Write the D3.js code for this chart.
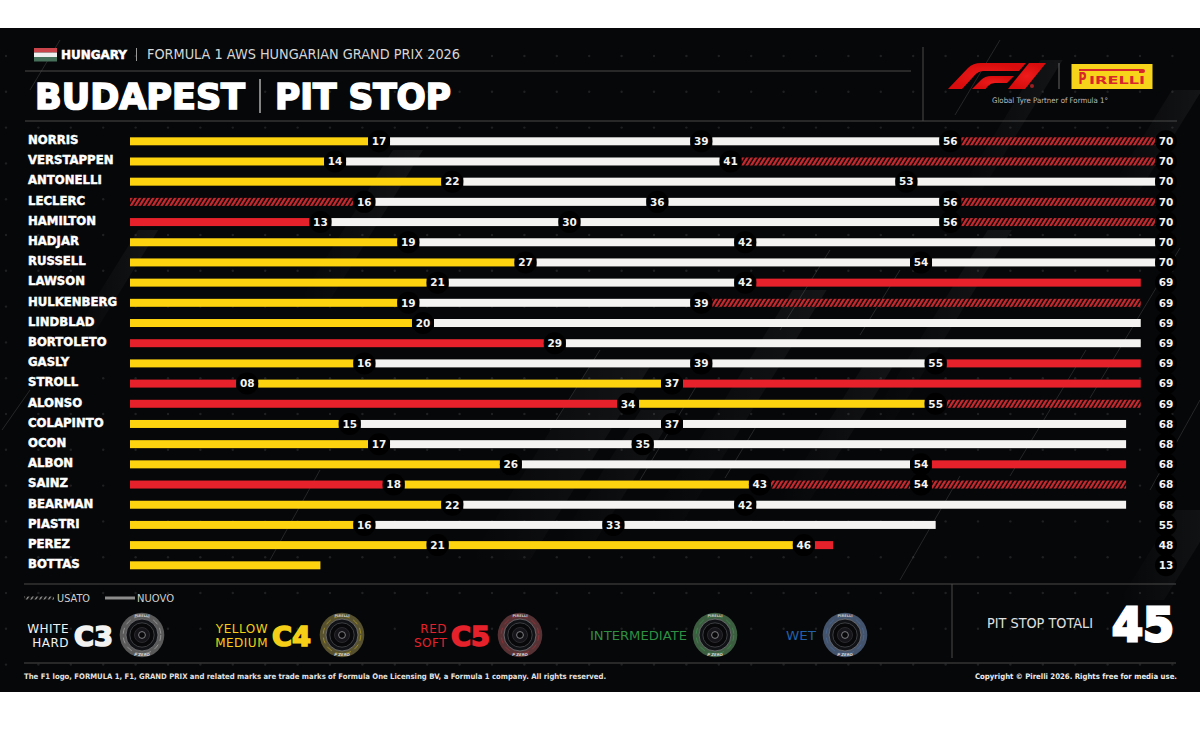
<!DOCTYPE html>
<html>
<head>
<meta charset="utf-8">
<title>Budapest pit stop</title>
<script src="https://cdn.jsdelivr.net/npm/d3@7"></script>
<style>
  html, body { margin: 0; background: #fff; }
  svg { display: block; }
  text { font-family: "DejaVu Sans", sans-serif; }
</style>
</head>
<body>
<svg id="chart" width="1200" height="729"></svg>
<script>
// Race order, top to bottom
const drivers = ["NORRIS","VERSTAPPEN","ANTONELLI","LECLERC","HAMILTON","HADJAR","RUSSELL","LAWSON",
  "HULKENBERG","LINDBLAD","BORTOLETO","GASLY","STROLL","ALONSO","COLAPINTO","OCON","ALBON","SAINZ",
  "BEARMAN","PIASTRI","PEREZ","BOTTAS"];

// Lap on which each stint ended; the last entry is the driver's final lap
const stintEnds = [
  [17,39,56,70],[14,41,70],[22,53,70],[16,36,56,70],[13,30,56,70],[19,42,70],[27,54,70],[21,42,69],
  [19,39,69],[20,69],[29,69],[16,39,55,69],[8,37,69],[34,55,69],[15,37,68],[17,35,68],[26,54,68],
  [18,43,54,68],[22,42,68],[16,33,55],[21,46,48],[13]
];

// Compound per stint: W hard, Y medium, R soft, lower case r = used soft set
const stintTyres = [
  ["Y","W","W","r"],["Y","W","r"],["Y","W","W"],["r","W","W","r"],["R","W","W","r"],["Y","W","W"],
  ["Y","W","W"],["Y","W","R"],["Y","W","r"],["Y","W"],["R","W"],["Y","W","W","R"],["R","Y","R"],
  ["R","Y","r"],["Y","W","W"],["Y","W","W"],["Y","W","R"],["R","Y","r","r"],["Y","W","W"],
  ["Y","W","W"],["Y","Y","R"],["Y"]
];

const tyreLegend = [
  { lines:["WHITE","HARD"], code:"C3", color:"#f2f2f2", wall:"#5a5a5a", band:"#a0a0a0" },
  { lines:["YELLOW","MEDIUM"], code:"C4", color:"#f5cf17", wall:"#57512f", band:"#a8962a" },
  { lines:["RED","SOFT"], code:"C5", color:"#e5222b", wall:"#573235", band:"#96343a" },
  { lines:["INTERMEDIATE"], code:null, color:"#2f8f42", wall:"#3c5d40", band:"#3f8a4f" },
  { lines:["WET"], code:null, color:"#2160a8", wall:"#43536b", band:"#4a6a95" }
];

const svg = d3.select("#chart");
const defs = svg.append("defs");

const x = d3.scaleLinear().domain([0, 70]).range([130, 1155.4]);
const y = d3.scalePoint().domain(drivers).range([141.3, 565.3]);
const tyreFill = { W:"#f4f3f1", Y:"#fdd20f", R:"#e7212b", r:"url(#usedSoft)" };

// Hatch fills
const hatch = (id, colour, ground, w) => {
  const p = defs.append("pattern").attr("id", id).attr("width", 4.4).attr("height", 8)
    .attr("patternUnits", "userSpaceOnUse").attr("patternTransform", "skewX(-32)");
  p.append("rect").attr("width", 4.4).attr("height", 8).attr("fill", ground);
  p.append("rect").attr("width", w).attr("height", 8).attr("fill", colour);
};
hatch("usedSoft", "#c8292f", "#1a0b0c", 2.5);
hatch("usedKey", "#8c8c8c", "#111", 1.6);

const streak = defs.append("linearGradient").attr("id", "streak")
  .attr("x1", 0).attr("x2", 1).attr("y1", 0).attr("y2", 0);
streak.append("stop").attr("offset", 0).attr("stop-color", "#fff").attr("stop-opacity", 0);
streak.append("stop").attr("offset", 1).attr("stop-color", "#fff").attr("stop-opacity", 0.055);

const rim = defs.append("radialGradient").attr("id", "logoRed");
rim.append("stop").attr("offset", 0).attr("stop-color", "#ee1c1c");
rim.append("stop").attr("offset", 1).attr("stop-color", "#d80c0c");

// Backdrop panel
svg.append("rect").attr("y", 28).attr("width", 1200).attr("height", 664).attr("fill", "#060709");

const backdrop = svg.append("g");

// Slanted light bands running up to the right
const bands = [
  [470,560,200,60],[560,540,130,36],[650,520,230,34],[780,500,140,30],[870,420,190,24],
  [1120,600,90,44],[300,300,150,30],[70,340,110,20],[960,190,130,22],[1110,190,100,30]
];
backdrop.selectAll("path.band").data(bands).join("path").attr("class", "band")
  .attr("fill", "url(#streak)")
  .attr("d", ([bx, by, len, w]) => {
    const dx = len * 0.62;
    return `M${bx},${by}L${bx + w},${by}L${bx + w + dx},${by - len}L${bx + dx},${by - len}Z`;
  });

// Thin slanted hairlines
const hairlines = [
  [1086,350,1010,476],[1180,248,1090,398],[960,476,900,580],[700,380,640,480],
  [830,250,780,330],[600,350,550,430],[30,390,2,430],[320,470,270,560],[1200,400,1150,490],
  [900,270,860,335],[760,420,725,478],[60,40,30,90],[1000,40,955,115]
];
backdrop.selectAll("line").data(hairlines).join("line")
  .attr("x1", d => d[0]).attr("y1", d => d[1]).attr("x2", d => d[2]).attr("y2", d => d[3])
  .attr("stroke", "#fff").attr("stroke-opacity", 0.16).attr("stroke-width", 0.8);

// Dot lattice
const dots = d3.cross(d3.range(6, 1200, 32.4), d3.range(56, 690, 35.8));
backdrop.selectAll("circle").data(dots).join("circle")
  .attr("cx", d => d[0]).attr("cy", d => d[1]).attr("r", 1.2)
  .attr("fill", "#fff").attr("fill-opacity", 0.1);

// Frame rules
const rules = [
  [25,71,911,71],[25,121,1177,121],[923,47,923,121],[24,584,1176,584],[24,663,1176,663],[952,584,952,658]
];
svg.append("g").selectAll("line").data(rules).join("line")
  .attr("x1", d => d[0]).attr("y1", d => d[1]).attr("x2", d => d[2]).attr("y2", d => d[3])
  .attr("stroke", "#4a4a4a").attr("stroke-width", 1);

// Header
const head = svg.append("g");
[["#c9444b",48],["#efefef",52.5],["#47705a",57]].forEach(([c, top]) =>
  head.append("rect").attr("x", 34).attr("y", top).attr("width", 23).attr("height", 4.5).attr("fill", c));
const label = (g, t, px, py, size, opts = {}) => {
  const el = g.append("text").text(t).attr("x", px).attr("y", py)
    .attr("font-size", size).attr("fill", opts.fill || "#fff")
    .attr("text-anchor", opts.anchor || "start")
    .attr("font-family", opts.family || "DejaVu Sans")
    .attr("font-weight", opts.weight || 400);
  if (opts.len) el.attr("textLength", opts.len).attr("lengthAdjust", "spacingAndGlyphs");
  if (opts.heavy) el.attr("stroke", opts.fill || "#fff").attr("stroke-width", opts.heavy).attr("paint-order", "stroke");
  return el;
};
label(head, "HUNGARY", 61, 58.5, 11.5, { weight:700, len:66, heavy:0.5 });
head.append("line").attr("x1", 136.5).attr("x2", 136.5).attr("y1", 48).attr("y2", 61).attr("stroke", "#999");
label(head, "FORMULA 1 AWS HUNGARIAN GRAND PRIX 2026", 147, 59, 14,
  { family:"Inter", weight:400, len:313, fill:"#d6d6d6" });
label(head, "BUDAPEST", 35, 108.5, 35, { weight:700, len:210, heavy:1.7 });
head.append("line").attr("x1", 260).attr("x2", 260).attr("y1", 79).attr("y2", 113).attr("stroke", "#d8d8d8").attr("stroke-width", 1.2);
label(head, "PIT STOP", 275, 108.5, 35, { weight:700, len:176, heavy:1.7 });

// Sponsor marks
const f1 = svg.append("g").attr("transform", "translate(948,63)").attr("fill", "url(#logoRed)");
f1.append("path").attr("d", "M0,26L20,5Q25,0 33,0L78,0L71,8L36,8Q30,8 26,13L14,26Z");
f1.append("path").attr("d", "M24,26L33,17Q37,13 43,13L66,13L59,20L47,20Q43,20 40,23L37.5,26Z");
f1.append("path").attr("d", "M81,0L98,0L77,26L60,26Z");
f1.append("circle").attr("cx", 84).attr("cy", 23).attr("r", 2).attr("fill", "#9c1f22");
svg.append("line").attr("x1", 1059).attr("x2", 1059).attr("y1", 63).attr("y2", 89).attr("stroke", "#666");
const pz = svg.append("g");
pz.append("rect").attr("x", 1071.5).attr("y", 64).attr("width", 81).attr("height", 25).attr("fill", "#f7d31a");
pz.append("path").attr("fill", "#d8272c")
  .attr("d", "M1079,69H1143a2,2 0 0 1 0,4H1139V71H1079Z");
label(pz, "P", 1078.5, 84, 15.5, { weight:700, fill:"#d8272c", len:8 });
label(pz, "IRELLI", 1089, 84, 11, { weight:700, fill:"#d8272c", len:56 });
label(svg, "Global Tyre Partner of Formula 1°", 1050, 103, 7.6,
  { family:"Inter", anchor:"middle", fill:"#bdbdbd", len:116 });

// One row per driver
const rows = svg.append("g").selectAll("g").data(drivers).join("g")
  .attr("transform", d => `translate(0,${y(d)})`);

label(rows, d => d, 28, 2.8, 11.7, { weight:700, heavy:0.45 });

const barH = 8, gap = 11;
rows.each(function (name, i) {
  const row = d3.select(this), ends = stintEnds[i], last = ends.length - 1;
  const stints = ends.map((lap, k) => ({
    from: k ? ends[k - 1] : 0, to: lap, tyre: stintTyres[i][k], first: k === 0, final: k === last
  }));
  row.selectAll("rect").data(stints).join("rect")
    .attr("x", s => s.first ? x(0) : x(s.from) + gap)
    .attr("width", s => (s.final ? x(s.to) : x(s.to) - gap) - (s.first ? x(0) : x(s.from) + gap))
    .attr("y", -barH / 2).attr("height", barH)
    .attr("fill", s => tyreFill[s.tyre]);

  // Pit lap badges, with the final lap set apart in its own column
  const badgeX = s => s.final ? 1166 : x(s.to);
  row.selectAll("circle").data(stints).join("circle")
    .attr("cx", badgeX).attr("r", 11).attr("fill", "#000");
  row.selectAll("text.lap").data(stints).join("text").attr("class", "lap")
    .attr("x", badgeX).attr("y", 3.8).attr("text-anchor", "middle")
    .attr("font-family", "Roboto").attr("font-weight", 900).attr("font-size", 10.5)
    .attr("fill", "#f4f4f4")
    .text(s => d3.format("02")(s.to));
});

// Used / new key
const key = svg.append("g");
key.append("rect").attr("x", 24).attr("y", 596.5).attr("width", 30).attr("height", 3).attr("fill", "url(#usedKey)");
label(key, "USATO", 57, 602, 10.5, { family:"Inter", weight:400, len:33, fill:"#d0d0d0" });
key.append("rect").attr("x", 105).attr("y", 596.5).attr("width", 30).attr("height", 3).attr("fill", "#8c8c8c");
label(key, "NUOVO", 137, 602, 10.5, { family:"Inter", weight:400, len:37, fill:"#d0d0d0" });

// Tyre key
const tyreX = [142, 342, 520, 715, 845];
const textRight = [69, 268, 447, 687, 816];
const codeLeft = [74, 272, 451];
const tyreKey = svg.append("g").selectAll("g").data(tyreLegend).join("g");
tyreKey.each(function (t, i) {
  const g = d3.select(this), cx = tyreX[i], cy = 635;
  if (t.lines.length === 2) {
    // Colour name above compound name, right aligned against the code
    t.lines.forEach((s, k) => label(g, s, textRight[i], 632.6 + k * 14.7, 12,
      { family:"Inter", weight:400, anchor:"end", fill:t.color }).attr("letter-spacing", 0.5));
  } else {
    label(g, t.lines[0], textRight[i], 640, 13,
      { family:"Inter", weight:400, anchor:"end", fill:t.color, len:textRight[i] - (i === 3 ? 590 : 786) });
  }
  if (t.code) label(g, t.code, codeLeft[i], 645.5, 27, { weight:700, fill:t.color, len:39, heavy:1.6 });

  const ring = (r, fill, stroke, w) => g.append("circle").attr("cx", cx).attr("cy", cy).attr("r", r)
    .attr("fill", fill).attr("stroke", stroke).attr("stroke-width", w);
  ring(22.3, t.wall, "none", 0);
  ring(18.8, "none", t.band, 0.8).attr("stroke-dasharray", "6 4");
  ring(16, "#111215", "#77777b", 0.8);
  ring(12.2, "#08080a", "#4a4b4f", 0.8);
  ring(7.5, "#16161a", "#2a2a2e", 1);
  ring(3.4, "#08080a", "#7f7f83", 1);
  g.append("text").text("PIRELLI").attr("x", cx).attr("y", cy - 18).attr("text-anchor", "middle")
    .attr("font-size", 3.6).attr("font-weight", 700).attr("fill", "#c8c8c8");
  g.append("text").text("P ZERO").attr("x", cx).attr("y", cy + 20.5).attr("text-anchor", "middle")
    .attr("font-size", 3.8).attr("font-weight", 700).attr("font-style", "italic").attr("fill", "#d8d8d8");
});

// Stop count across the whole field
const totalStops = d3.sum(stintEnds, e => e.length - 1);
label(svg, "PIT STOP TOTALI", 987, 628, 14, { family:"Inter", weight:400, len:106, fill:"#e0e0e0" });
label(svg, String(totalStops), 1112, 641, 47, { weight:700, len:62, heavy:3 });

// Legal lines
label(svg, "The F1 logo, FORMULA 1, F1, GRAND PRIX and related marks are trade marks of Formula One Licensing BV, a Formula 1 company. All rights reserved.",
  24, 679, 7.6, { family:"Inter", weight:600, len:582, fill:"#e2e2e2" });
label(svg, "Copyright © Pirelli 2026. Rights free for media use.", 975, 679, 7.6,
  { family:"Inter", weight:700, len:202, fill:"#ededed" });
</script>
</body>
</html>
